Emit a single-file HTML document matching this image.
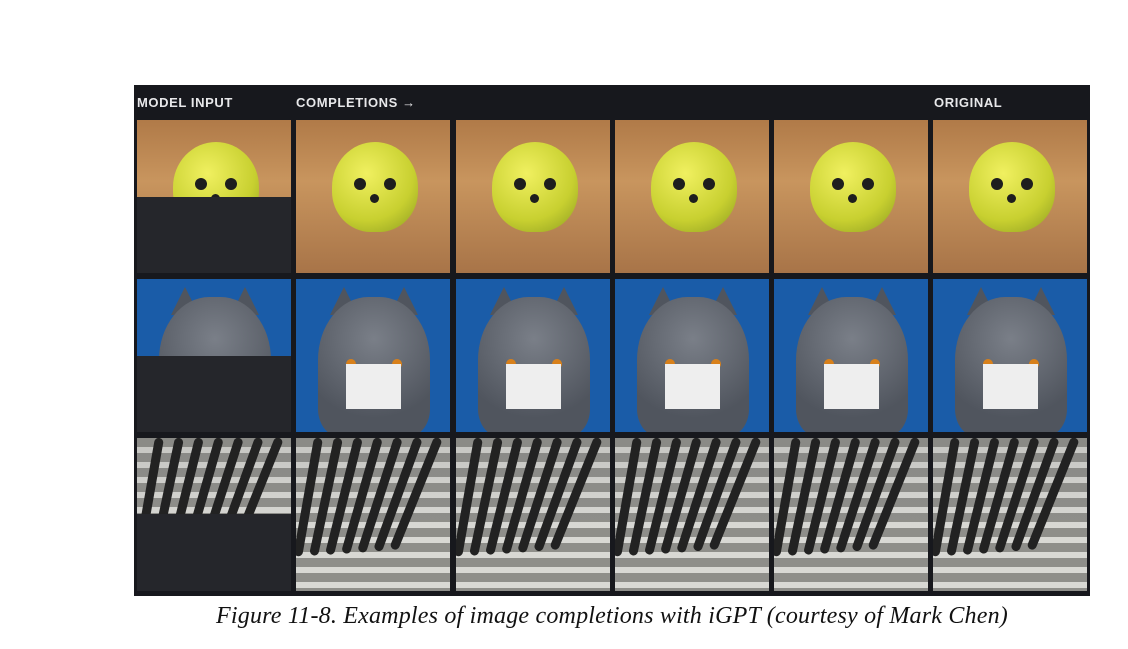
<!DOCTYPE html>
<html><head><meta charset="utf-8"><style>
body{margin:0;width:1128px;height:649px;background:#fff;position:relative;overflow:hidden;font-family:"Liberation Sans",sans-serif}
#panel{position:absolute;left:134px;top:85px;width:956px;height:511px;background:#17181d}
.hdr{position:absolute;top:10px;color:#e8e8ea;font-weight:bold;font-size:13px;letter-spacing:0.6px}
.cell{position:absolute;width:154px;height:153px;overflow:hidden}
.sand{background:linear-gradient(180deg,#b07a48 0%,#c8955e 40%,#a87448 100%)}
.blob{position:absolute;left:36px;top:22px;width:86px;height:90px;border-radius:50% 50% 45% 45%;background:radial-gradient(circle at 40% 35%,#f0f060,#c8d030 60%,#8a9a20)}
.eye{position:absolute;width:12px;height:12px;border-radius:50%;background:#1e1e1e}
.blue{background:#1a5ca8}
.cat{position:absolute;left:22px;top:18px;width:112px;height:140px;border-radius:45% 45% 20% 20%;background:radial-gradient(circle at 50% 30%,#7a7f88,#50555e 70%)}
.ear{position:absolute;top:8px;width:0;height:0;border-left:14px solid transparent;border-right:14px solid transparent;border-bottom:28px solid #50555e}
.oeye{position:absolute;top:62px;width:10px;height:10px;border-radius:50%;background:#d8801a}
.street{background:linear-gradient(180deg,rgba(120,120,118,0.2),rgba(255,255,255,0) 60%),repeating-linear-gradient(180deg,#8e8e8a 0 9px,#d8d8d4 9px 15px)}
.shadow{position:absolute;width:9px;height:120px;background:#222;border-radius:5px;transform-origin:top}
.blank{position:absolute;left:0;bottom:0;width:154px;background:#25262b}
#caption{position:absolute;left:0;width:1128px;top:603px;text-align:center;font-family:"Liberation Serif",serif;font-style:italic;font-size:24px;color:#111;padding-left:96px;box-sizing:border-box;letter-spacing:0.2px}
</style></head><body>
<div id="panel">
<div class="hdr" style="left:3px">MODEL INPUT</div>
<div class="hdr" style="left:162px">COMPLETIONS →</div>
<div class="hdr" style="left:800px">ORIGINAL</div>
</div>
<div id="caption">Figure 11-8. Examples of image completions with iGPT (courtesy of Mark Chen)</div>
<script>
const cols=[137,296,456,615,774,933];
const rows=[120,279,438];
const blanks=[76,76,77];
const body=document.body;
rows.forEach((y,r)=>{cols.forEach((x,c)=>{
 const d=document.createElement('div');
 
 
 d.className='cell '+(r===0?'sand':r===1?'blue':'street');
 d.style.left=x+'px';d.style.top=y+'px';
 if(r===0){d.innerHTML='<div class="blob"><div class="eye" style="left:22px;top:36px"></div><div class="eye" style="left:52px;top:36px"></div><div class="eye" style="left:38px;top:52px;width:9px;height:9px"></div></div>';}
 else if(r===1){d.innerHTML='<div class="ear" style="left:34px"></div><div class="ear" style="left:94px"></div><div class="cat"><div class="oeye" style="left:28px"></div><div class="oeye" style="left:74px"></div></div>';
  if(c>0){const p=document.createElement('div');p.style.cssText='position:absolute;left:50px;top:85px;width:55px;height:45px;background:#eee';d.appendChild(p);}}
 else{let h='';for(let i=0;i<7;i++){h+='<div class="shadow" style="left:'+(18+i*20)+'px;top:0;transform:rotate('+(10+i*2)+'deg)"></div>';}d.innerHTML=h;}
 if(c===0){const b=document.createElement('div');b.className='blank';b.style.height=blanks[r]+'px';d.appendChild(b);}
 body.appendChild(d);
});});
</script>
</body></html>
